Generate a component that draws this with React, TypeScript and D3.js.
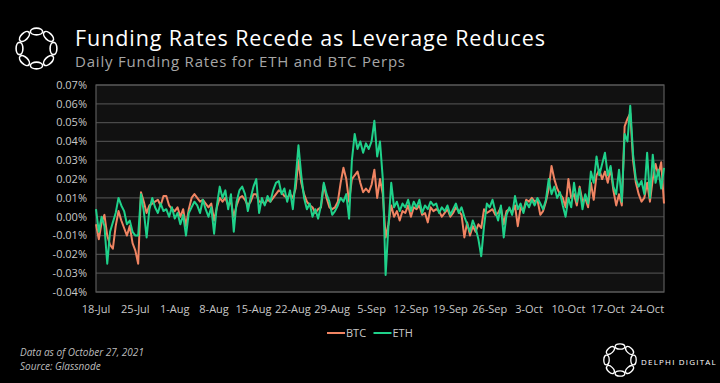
import React from "react";
import * as d3 from "d3";

const W = 720;
const H = 383;

const startDate = new Date(2021, 6, 18);
const endDate = new Date(2021, 9, 27);
const stepHours = 12;

const xTickLabels = ["18-Jul", "25-Jul", "1-Aug", "8-Aug", "15-Aug", "22-Aug", "29-Aug", "5-Sep", "12-Sep", "19-Sep", "26-Sep", "3-Oct", "10-Oct", "17-Oct", "24-Oct"];
const yTickValues = [-0.04, -0.03, -0.02, -0.01, 0, 0.01, 0.02, 0.03, 0.04, 0.05, 0.06, 0.07];

// Funding rates in %, every 12 hours from 18-Jul
const ethValues = [
  0.004, -0.008, 0.0, -0.005, -0.025, -0.008, -0.003, 0.002, 0.010, 0.006,
  0.003, -0.004, -0.002, -0.008, -0.010, -0.010, 0.012, 0.003, -0.011, 0.004,
  0.010, 0.005, 0.002, 0.007, 0.003, 0.004, 0.0, 0.005, -0.001, 0.002,
  -0.004, 0.001, -0.010, 0.002, 0.005, 0.008, 0.006, 0.002, 0.009, 0.004,
  0.0, 0.005, -0.009, 0.006, 0.016, 0.010, 0.014, 0.004, 0.012, -0.008,
  0.008, 0.014, 0.016, 0.012, 0.003, 0.010, 0.016, 0.020, 0.002, 0.010,
  0.006, 0.011, 0.008, 0.014, 0.018, 0.019, 0.012, 0.015, 0.008, 0.014,
  0.004, 0.020, 0.038, 0.022, 0.010, 0.004, 0.007, 0.0, 0.004, -0.001,
  0.006, 0.018, 0.012, 0.008, 0.001, 0.003, 0.006, 0.010, 0.008, 0.012,
  -0.001, 0.030, 0.044, 0.036, 0.040, 0.034, 0.039, 0.036, 0.040, 0.051,
  0.032, 0.040, 0.020, -0.031, -0.005, 0.018, 0.005, 0.008, 0.003, 0.007,
  0.005, 0.009, 0.003, 0.008, 0.005, 0.009, 0.002, 0.006, 0.004, 0.008,
  0.006, 0.007, 0.002, 0.005, 0.003, 0.006, 0.001, 0.004, 0.007, 0.002,
  0.005, 0.0, -0.004, -0.008, -0.002, -0.006, -0.012, -0.021, -0.005, 0.007,
  0.005, 0.009, 0.003, -0.002, 0.006, -0.011, 0.001, 0.005, 0.001, 0.011,
  0.004, 0.007, 0.002, 0.008, 0.005, 0.009, 0.006, 0.010, 0.007, 0.004,
  0.009, 0.020, 0.012, 0.016, 0.010, 0.013, 0.006, 0.0, 0.010, 0.005,
  0.018, 0.008, 0.015, 0.004, 0.012, 0.007, 0.024, 0.018, 0.032, 0.022,
  0.028, 0.034, 0.022, 0.027, 0.016, 0.012, 0.025, 0.008, 0.044, 0.040,
  0.059, 0.033, 0.020, 0.016, 0.019, 0.012, 0.034, 0.010, 0.033, 0.018,
  0.025, 0.015, 0.026,
];

const btcValues = [
  -0.004, -0.012, -0.003, 0.001, -0.010, -0.015, -0.017, -0.005, 0.003, -0.002,
  -0.006, -0.010, -0.005, -0.014, -0.018, -0.025, 0.013, 0.008, 0.002, 0.006,
  0.007, 0.008, 0.009, 0.006, 0.011, 0.011, 0.006, 0.004, 0.003, 0.005,
  0.0, 0.004, -0.005, 0.004, 0.010, 0.012, 0.010, 0.008, 0.009, 0.007,
  0.005, 0.007, -0.002, 0.005, 0.010, 0.008, 0.010, 0.006, 0.008, 0.0,
  0.006, 0.010, 0.011, 0.009, 0.006, 0.008, 0.012, 0.012, 0.008, 0.008,
  0.007, 0.009, 0.008, 0.010, 0.012, 0.014, 0.013, 0.011, 0.010, 0.012,
  0.010, 0.015, 0.030, 0.018, 0.012, 0.008, 0.006, 0.005, 0.002, 0.004,
  0.005, 0.017, 0.010, 0.005, 0.004, 0.005, 0.008, 0.018, 0.026, 0.020,
  0.008, 0.020, 0.022, 0.024, 0.018, 0.013, 0.015, 0.013, 0.017, 0.025,
  0.010, 0.020, 0.012, -0.011, -0.004, 0.006, 0.0, 0.003, -0.002, 0.003,
  0.002, 0.006, 0.0, 0.005, 0.004, 0.006, 0.001, 0.002, -0.003, 0.005,
  0.003, 0.004, 0.003, 0.0, 0.002, 0.004, 0.0, 0.002, 0.005, 0.003,
  0.001, -0.011, -0.003, -0.010, -0.005, -0.008, -0.004, -0.006, 0.004, 0.002,
  0.003, 0.004, 0.001, 0.002, 0.005, -0.004, 0.003, 0.004, 0.002, 0.006,
  -0.005, 0.005, 0.003, 0.009, 0.008, 0.010, 0.008, 0.009, 0.001, 0.003,
  0.008, 0.015, 0.027, 0.020, 0.015, 0.012, 0.010, 0.005, 0.020, 0.010,
  0.012, 0.006, 0.016, 0.008, 0.010, 0.005, 0.018, 0.009, 0.022, 0.025,
  0.020, 0.024, 0.018, 0.026, 0.014, 0.006, 0.012, 0.006, 0.048, 0.052,
  0.055, 0.030, 0.018, 0.012, 0.008, 0.010, 0.018, 0.008, 0.020, 0.028,
  0.022, 0.029, 0.007,
];

const seriesNames = ["BTC", "ETH"];
const seriesColors = ["#f08462", "#1fd18a"];

function dateAt(i: number) {
  return new Date(startDate.getTime() + i * stepHours * 3600 * 1000);
}

function Logo({ cx, cy, r, sw }: { cx: number; cy: number; r: number; sw: number }) {
  const n = 8;
  const items = d3.range(n).map((k) => {
    const a = (k / n) * 360;
    return (
      <ellipse
        key={k}
        cx={0}
        cy={-r}
        rx={r * 0.36}
        ry={r * 0.2}
        transform={`rotate(${a})`}
        fill="none"
        stroke="#fff"
        strokeWidth={sw}
      />
    );
  });
  return <g transform={`translate(${cx},${cy})`}>{items}</g>;
}

export default function App() {
  const left = 96;
  const right = 664;
  const top = 85;
  const bottom = 292;

  const x = d3.scaleTime().domain([startDate, endDate]).range([left, right]);
  const y = d3.scaleLinear().domain([-0.04, 0.07]).range([bottom, top]);

  const line = d3
    .line<number>()
    .x((_, i) => x(dateAt(i)))
    .y((v) => y(v));

  const tickDates = xTickLabels.map((_, k) => new Date(startDate.getTime() + k * 7 * 86400000));
  const font = "'Open Sans', 'DejaVu Sans', sans-serif";

  return (
    <svg width={W} height={H} style={{ display: "block", position: "absolute", left: 0, top: 0, background: "#000" }}>
      <rect x={0} y={0} width={W} height={H} fill="#000" />
      <Logo cx={36.5} cy={48.5} r={17} sw={1.6} />
      <text x={75} y={46} fill="#fff" fontFamily={font} fontSize={21.5} textLength={470} lengthAdjust="spacing">
        Funding Rates Recede as Leverage Reduces
      </text>
      <text x={75} y={67} fill="#a6a6a6" fontFamily={font} fontSize={15} textLength={330} lengthAdjust="spacing">
        Daily Funding Rates for ETH and BTC Perps
      </text>

      <rect x={left} y={top} width={right - left} height={bottom - top} fill="#111111" />
      {yTickValues.map((v) => (
        <g key={v}>
          <line x1={left} x2={right} y1={y(v)} y2={y(v)} stroke="#4a4a4a" strokeWidth={1.2} />
          <text x={87} y={y(v)} dy="0.35em" textAnchor="end" fill="#c8c8c8" fontFamily={font} fontSize={11}>
            {v.toFixed(2) + "%"}
          </text>
        </g>
      ))}
      <rect x={left} y={top} width={right - left} height={bottom - top} fill="none" stroke="#5a5a5a" strokeWidth={1.2} />
      {tickDates.map((d, k) => (
        <text key={k} x={x(d)} y={313} textAnchor="middle" fill="#c8c8c8" fontFamily={font} fontSize={11}>
          {xTickLabels[k]}
        </text>
      ))}

      <path d={line(btcValues) || ""} fill="none" stroke={seriesColors[0]} strokeWidth={2} strokeLinejoin="round" />
      <path d={line(ethValues) || ""} fill="none" stroke={seriesColors[1]} strokeWidth={2} strokeLinejoin="round" />

      {seriesNames.map((name, k) => {
        const lx = 327 + k * 46.5;
        return (
          <g key={name}>
            <line x1={lx} x2={lx + 18} y1={333} y2={333} stroke={seriesColors[k]} strokeWidth={2} />
            <text x={lx + 19} y={333} dy="0.35em" fill="#c8c8c8" fontFamily={font} fontSize={11}>
              {name}
            </text>
          </g>
        );
      })}

      <text x={20} y={356} fill="#bdbdbd" fontFamily={font} fontSize={10} fontStyle="italic">
        Data as of October 27, 2021
      </text>
      <text x={20} y={370} fill="#bdbdbd" fontFamily={font} fontSize={10} fontStyle="italic">
        Source: Glassnode
      </text>

      <Logo cx={620} cy={360} r={13.5} sw={1.3} />
      <text x={641} y={362} dy="0.35em" fill="#fff" fontFamily={font} fontSize={8} letterSpacing={1.2}>
        DELPHI DIGITAL
      </text>
    </svg>
  );
}
